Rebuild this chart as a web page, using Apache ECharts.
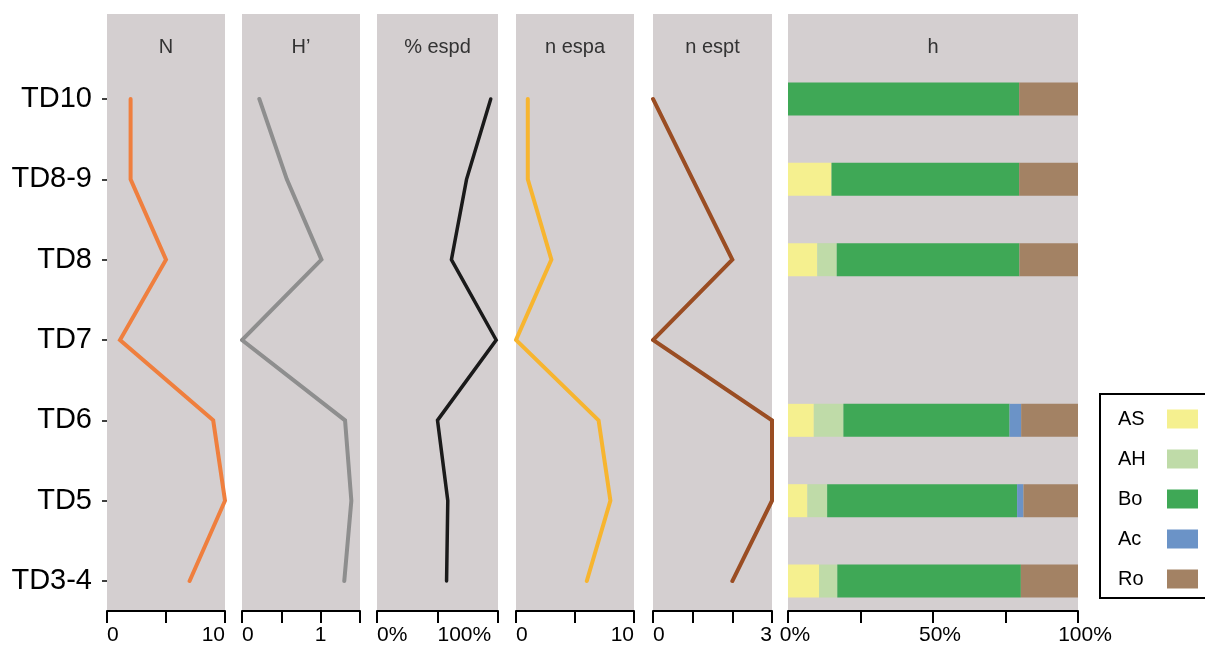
<!DOCTYPE html>
<html><head><meta charset="utf-8">
<script src="https://cdn.jsdelivr.net/npm/echarts@6/dist/echarts.min.js"></script>
<style>html,body{margin:0;padding:0;background:#fff}#c{width:1205px;height:648px}</style>
</head><body><div id="c"></div>
<script>
// ---- data ----
const categories = ['TD3-4','TD5','TD6','TD7','TD8','TD8-9','TD10'];
const nValues    = [7, 10, 9, 1.1, 5, 2, 2];
const hValues    = [1.30, 1.39, 1.31, 0, 1.01, 0.57, 0.22];
const espdValues = [115, 117, 100, 197, 123, 148, 188];
const espaValues = [6, 8, 7, 0, 3, 1, 1];
const esptValues = [2, 3, 3, 0, 2, 1, 0];
const barSegments = ['AS','AH','Bo','Ac','Ro'];
const asValues = [10.7, 6.7, 8.9, null, 10.1, 15, 0];
const ahValues = [6.3, 6.8, 10.2, null, 6.7, 0, 0];
const boValues = [63.3, 65.5, 57.3, null, 63, 64.7, 79.7];
const acValues = [0, 2.2, 4, null, 0, 0, 0];
const roValues = [19.7, 18.8, 19.6, null, 20.2, 20.3, 20.3];
const panelTitles = ['N', 'H\u2019', '% espd', 'n espa', 'n espt', 'h'];
const axisMin = [0, 0, 0, 0, 0, 0];
const axisMax = [10, 1.5, 200, 10, 3, 100];
const axisStep = [5, 0.5, 100, 5, 1, 25];
const tickLabels = [[0,10],[0,1],[0,100],[0,10],[0,3],[0,50,100]];
const percentAxis = [false, false, true, false, false, true];

// ---- styles / layout ----
const FONT = 'Liberation Sans, Arial, sans-serif';
const lefts  = [107, 242, 377, 516, 653, 788];
const widths = [118, 118, 121, 118, 119, 290];
const lineColors = ['#ef7f3e', '#8e8e8e', '#1a1a1a', '#f7b52f', '#9a4d23'];
const lineWidths = [4, 4, 3.5, 4, 4];
const barColors = ['#f5f08f', '#bfdba8', '#3fa856', '#6b93c7', '#a38264'];
const labelAlign = [
  {alignMinLabel:'left', alignMaxLabel:'right'},
  {alignMinLabel:'left'},
  {align:'left'},
  {alignMinLabel:'left', alignMaxLabel:'right'},
  {alignMinLabel:'left', alignMaxLabel:'right'},
  {padding:[0,0,0,14]}
];

const grid = [], xAxis = [], yAxis = [], series = [];
for (let i = 0; i < 6; i++) {
  grid.push({left: lefts[i], width: widths[i], top: 14, bottom: 37, show: true,
             backgroundColor: '#d4cfd0', borderWidth: 0});
  grid.push({left: lefts[i], width: widths[i], top: 58.8, bottom: 26.8});
  const shown = tickLabels[i], pct = percentAxis[i];
  xAxis.push(Object.assign({
    gridIndex: 2*i, type: 'value', min: axisMin[i], max: axisMax[i], interval: axisStep[i],
    position: 'bottom', offset: 2,
    axisLine: {show: true, lineStyle: {color: '#000', width: 2}},
    axisTick: {show: true, length: 12, lineStyle: {color: '#000', width: 2}},
    splitLine: {show: false}
  }, {axisLabel: Object.assign({
      margin: 12, fontSize: 21, color: '#000', fontFamily: FONT,
      formatter: v => shown.some(s => Math.abs(s - v) < 1e-9) ? (v + (pct ? '%' : '')) : ''
    }, labelAlign[i])}));
  yAxis.push({gridIndex: 2*i, type: 'value', show: false});
  xAxis.push({
    gridIndex: 2*i+1, type: 'value', min: axisMin[i], max: axisMax[i], position: 'top',
    axisLine: {show: false}, axisTick: {show: false}, axisLabel: {show: false}, splitLine: {show: false},
    name: panelTitles[i], nameLocation: 'middle', nameGap: 11,
    nameTextStyle: {fontSize: 20, color: '#333', fontFamily: FONT, verticalAlign: 'middle'}
  });
  if (i === 0) {
    yAxis.push({
      gridIndex: 1, type: 'category', data: categories, boundaryGap: true, offset: 2,
      axisLine: {show: false},
      axisTick: {show: true, alignWithLabel: true, length: 5, lineStyle: {color: '#000', width: 1.5}},
      axisLabel: {fontSize: 29, color: '#000', fontFamily: FONT, margin: 13},
      splitLine: {show: false}
    });
  } else {
    yAxis.push({gridIndex: 2*i+1, type: 'category', data: categories, boundaryGap: true, show: false});
  }
}

const lineData = [nValues, hValues, espdValues, espaValues, esptValues];
lineData.forEach((vals, i) => {
  series.push({
    type: 'line', xAxisIndex: 2*i+1, yAxisIndex: 2*i+1, symbol: 'none', silent: true,
    data: vals.map((v, k) => [v, categories[k]]),
    lineStyle: {color: lineColors[i], width: lineWidths[i], cap: 'round', join: 'miter'}
  });
});
const barData = [asValues, ahValues, boValues, acValues, roValues];
barData.forEach((vals, j) => {
  series.push({
    type: 'bar', name: barSegments[j], stack: 'h', xAxisIndex: 11, yAxisIndex: 11,
    barWidth: 33, data: vals, itemStyle: {color: barColors[j]}
  });
});

const chart = echarts.init(document.getElementById('c'), null, {renderer: 'canvas'});
chart.setOption({
  animation: false,
  backgroundColor: '#fff',
  grid, xAxis, yAxis, series,
  legend: {
    data: barSegments, orient: 'vertical', left: 1100, top: 394,
    itemWidth: 31, itemHeight: 19, itemGap: 20, align: 'right', icon: 'rect',
    borderColor: '#000', borderWidth: 2, padding: [15, 8, 9, 18],
    formatter: '{a|{name}}',
    textStyle: {fontSize: 20, color: '#000', fontFamily: FONT,
      rich: {a: {width: 44, align: 'left', fontSize: 20, color: '#000', fontFamily: FONT}}}
  }
});
</script>
</body></html>
